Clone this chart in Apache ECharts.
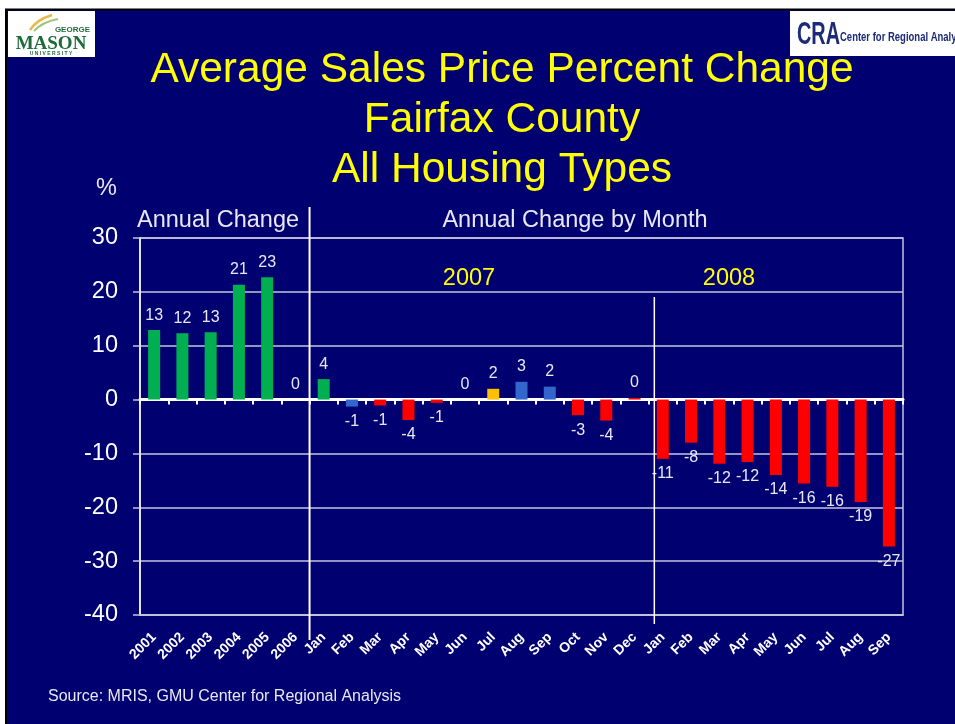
<!DOCTYPE html>
<html>
<head>
<meta charset="utf-8">
<title>Average Sales Price Percent Change - Fairfax County</title>
<script src="https://cdn.jsdelivr.net/npm/echarts@6/dist/echarts.min.js"></script>
<style>
  html, body { margin: 0; padding: 0; background: #fff; }
  #chart { width: 955px; height: 724px; }
</style>
</head>
<body>
<div id="chart"></div>
<script>
// categories: 6 years, then the months of 2007 and 2008
const years = ['2001', '2002', '2003', '2004', '2005', '2006']
const months2007 = ['Jan', 'Feb', 'Mar', 'Apr', 'May', 'Jun', 'Jul', 'Aug', 'Sep', 'Oct', 'Nov', 'Dec']
const months2008 = ['Jan', 'Feb', 'Mar', 'Apr', 'May', 'Jun', 'Jul', 'Aug', 'Sep']

// percent change values
const annualValues = [12.9, 12.3, 12.5, 21.3, 22.7, 0]
const values2007 = [3.8, -1.3, -1.1, -3.8, -0.6, 0, 2.0, 3.3, 2.4, -2.9, -3.9, 0.3]
const values2008 = [-11.0, -8.0, -11.9, -11.6, -14.0, -15.6, -16.2, -19.0, -27.3]

const yTicks = [-40, -30, -20, -10, 0, 10, 20, 30]

const categories = years.concat(months2007, months2008)
const values = annualValues.concat(values2007, values2008)

// bar colours, same order as categories
const GREEN = '#00B050', BLUE = '#3366CC', RED = '#FF0000', YELLOW = '#FFC000'
const barColors = [
  GREEN, GREEN, GREEN, GREEN, GREEN, GREEN,
  GREEN, BLUE, RED, RED, RED, RED, YELLOW, BLUE, BLUE, RED, RED, RED,
  RED, RED, RED, RED, RED, RED, RED, RED, RED
]

const NAVY = '#000070'
const FONT = '"Liberation Sans", Arial, sans-serif'
const LIGHT = '#e8e8f4'
const GRIDLINE = '#c4c4dc'

const chart = echarts.init(document.getElementById('chart'))

const option = {
  backgroundColor: NAVY,
  animation: false,
  textStyle: { fontFamily: FONT },
  title: {
    text: 'Average Sales Price Percent Change\nFairfax County\nAll Housing Types',
    left: 497,
    top: 40,
    textAlign: 'center',
    textStyle: {
      color: '#FFFF00',
      fontSize: 42.5,
      fontWeight: 'normal',
      lineHeight: 50,
      fontFamily: FONT
    }
  },
  grid: {
    left: 140,
    top: 238,
    right: 52,
    bottom: 109,
    show: true,
    borderColor: GRIDLINE,
    borderWidth: 1.5
  },
  xAxis: [
    {
      type: 'category',
      data: categories,
      position: 'bottom',
      axisLine: { onZero: false, lineStyle: { color: GRIDLINE, width: 1.5 } },
      axisTick: { show: false },
      axisLabel: {
        interval: 0,
        rotate: 45,
        margin: 20,
        color: '#ffffff',
        fontSize: 14,
        fontWeight: 'bold',
        fontFamily: FONT
      }
    },
    {
      // zero line with its small ticks
      type: 'category',
      data: categories,
      position: 'top',
      axisLine: { onZero: true, lineStyle: { color: '#ffffff', width: 3 } },
      axisTick: { show: true, interval: 0, inside: true, length: 5, lineStyle: { color: '#ffffff', width: 2 } },
      axisLabel: { show: false }
    }
  ],
  yAxis: {
    type: 'value',
    min: yTicks[0],
    max: yTicks[yTicks.length - 1],
    interval: 10,
    axisLine: { show: true, lineStyle: { color: '#ffffff', width: 1.5 } },
    axisTick: { show: true, length: 7, lineStyle: { color: GRIDLINE, width: 1.5 } },
    axisLabel: { color: '#ffffff', fontSize: 23.5, margin: 22, fontFamily: FONT },
    splitLine: { lineStyle: { color: GRIDLINE, width: 1.5 } }
  },
  series: [
    {
      type: 'bar',
      xAxisIndex: 0,
      barWidth: 12,
      data: values.map((v, i) => ({
        value: v,
        itemStyle: { color: barColors[i] },
        label: { position: v < 0 ? 'bottom' : 'top' }
      })),
      label: {
        show: true,
        distance: 7,
        color: LIGHT,
        fontSize: 16,
        fontFamily: FONT,
        formatter: (p) => String(Math.round(p.value) || 0)
      }
    }
  ]
}

chart.setOption(option)

// separator lines between the annual and monthly parts, and before 2008
const cx = (i) => chart.convertToPixel({ xAxisIndex: 0 }, i)
const xAnnualEnd = (cx(5) + cx(6)) / 2
const x2008 = cx(17) + 0.7 * (cx(18) - cx(17))

const textEl = (text, x, y, opts) => Object.assign({
  type: 'text',
  x: x,
  y: y,
  style: Object.assign({
    text: text,
    fill: LIGHT,
    font: '23.5px ' + FONT,
    textVerticalAlign: 'middle'
  }, (opts && opts.style) || {})
}, opts && opts.el || {})

chart.setOption({
  graphic: [
    // slide frame
    { type: 'rect', shape: { x: 0, y: 0, width: 955, height: 9 }, style: { fill: '#ffffff' } },
    { type: 'rect', shape: { x: 0, y: 0, width: 5, height: 724 }, style: { fill: '#ffffff' } },
    { type: 'line', shape: { x1: 5, y1: 9.5, x2: 955, y2: 9.5 }, style: { stroke: '#000', lineWidth: 2 } },
    { type: 'line', shape: { x1: 6, y1: 9, x2: 6, y2: 724 }, style: { stroke: '#000', lineWidth: 2 } },

    // GMU logo
    { type: 'rect', shape: { x: 8, y: 11, width: 87, height: 46 }, style: { fill: '#ffffff' } },
    { type: 'bezierCurve', shape: { x1: 30, y1: 30, cpx1: 36, cpy1: 20, x2: 52, y2: 15 }, style: { stroke: '#e8b84a', lineWidth: 2.5, fill: null } },
    { type: 'bezierCurve', shape: { x1: 34, y1: 31, cpx1: 42, cpy1: 22, x2: 58, y2: 19 }, style: { stroke: '#9cc47a', lineWidth: 2, fill: null } },
    textEl('GEORGE', 90, 30, { style: { fill: '#1e6b3a', font: 'bold 8px ' + FONT, textAlign: 'right' } }),
    textEl('MASON', 51, 44, { style: { fill: '#1e6b3a', font: 'bold 19px "Liberation Serif", serif', textAlign: 'center' } }),
    textEl('U N I V E R S I T Y', 51, 54, { style: { fill: '#1e6b3a', font: 'bold 5px ' + FONT, textAlign: 'center' } }),

    // CRA logo
    { type: 'rect', shape: { x: 790, y: 11, width: 165, height: 45 }, style: { fill: '#ffffff' } },
    textEl('CRA', 797, 35, { style: { fill: '#1c2a78', font: 'bold 32px ' + FONT }, el: { scaleX: 0.62 } }),
    textEl('Center for Regional Analysis', 840, 37, { style: { fill: '#1c2a78', font: 'bold 13px ' + FONT }, el: { scaleX: 0.73 } }),

    // axis / section annotations
    textEl('%', 96, 189),
    textEl('Annual Change', 137, 221),
    textEl('Annual Change by Month', 575, 221, { style: { textAlign: 'center' } }),
    textEl('2007', 469, 279, { style: { fill: '#FFFF00', textAlign: 'center' } }),
    textEl('2008', 729, 279, { style: { fill: '#FFFF00', textAlign: 'center' } }),
    textEl('Source: MRIS, GMU Center for Regional Analysis', 48, 697, { style: { font: '16px ' + FONT } }),

    { type: 'line', z: 10, shape: { x1: xAnnualEnd, y1: 207, x2: xAnnualEnd, y2: 640 }, style: { stroke: '#ffffff', lineWidth: 2 } },
    { type: 'line', z: 10, shape: { x1: x2008, y1: 297, x2: x2008, y2: 624 }, style: { stroke: '#ffffff', lineWidth: 1.5 } }
  ]
})
</script>
</body>
</html>
